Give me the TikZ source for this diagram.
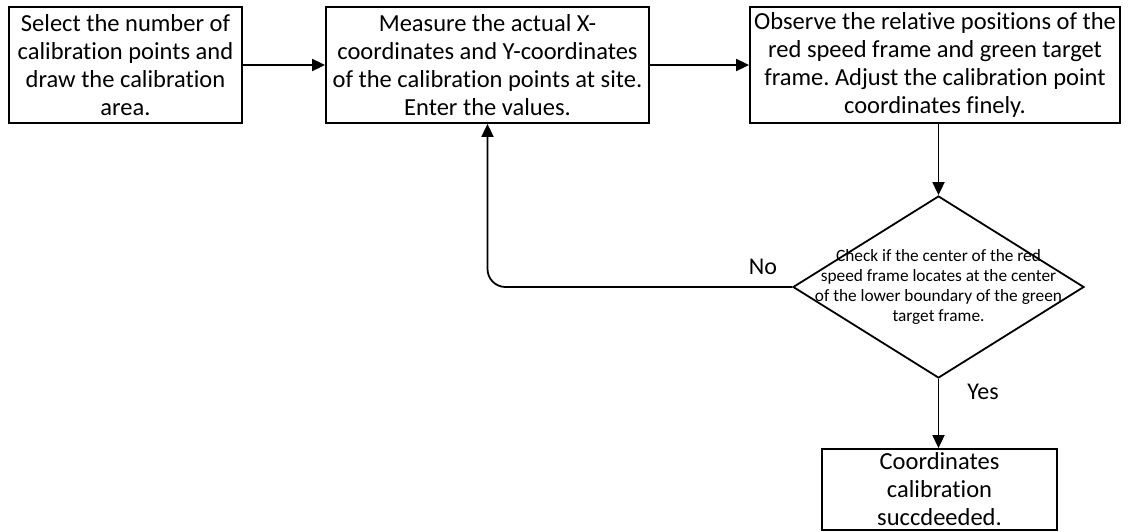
\documentclass[tikz,border=0pt]{standalone}
\usepackage{fontspec}
\setmainfont{Carlito}[Ligatures=NoCommon,RawFeature=-liga]
\frenchspacing
\usetikzlibrary{arrows.meta,shapes.geometric}
\begin{document}
\begin{tikzpicture}[x=1pt,y=-1pt,
  box/.style={draw,line width=1.8pt,inner sep=0pt,align=center,
    font=\fontsize{24.5}{28}\selectfont},
  arr/.style={line width=1.8pt,-{Triangle[length=13pt,width=12pt]}},
  lbl/.style={font=\fontsize{24}{28}\selectfont,inner sep=0pt}]
\useasboundingbox (0,0) rectangle (1128,531);
\node[box,minimum width=233pt,minimum height=116pt] (b1) at (125.5,65)
  {Select the number of\\calibration points and\\draw the calibration\\area.};
\node[box,minimum width=323pt,minimum height=116pt] (b2) at (487.5,65)
  {Measure the actual X-\\coordinates and Y-coordinates\\of the calibration points at site.\\Enter the values.};
\node[box,minimum width=370pt,minimum height=116pt] (b3) at (935,65)
  {Observe the relative positions of the\\red speed frame and green target\\frame. Adjust the calibration point\\coordinates finely.};
\node[draw,line width=1.8pt,diamond,inner sep=0pt,minimum width=291pt,minimum height=182pt,aspect=1.6] (dia) at (938.5,287) {};
\node[align=center,inner sep=0pt,font=\fontsize{17.3}{20}\selectfont] (dtext) at (dia.center)
  {Check if the center of the red\\speed frame locates at the center\\of the lower boundary of the green\\target frame.};
\node[box,minimum width=235pt,minimum height=81pt] (b4) at (939.5,489.5)
  {Coordinates\\calibration\\succdeeded.};
\draw[arr] (b1) -- (b2);
\draw[arr] (b2) -- (b3);
\draw[arr] (b3.south -| dia.north) -- (dia.north);
\draw[arr] (dia.south) -- (b4.north -| dia.south);
\draw[arr,rounded corners=18pt] (dia.west) -| (b2.south);
\node[lbl] (no) at (763,267) {No};
\node[lbl] (yes) at (983,392) {Yes};
\end{tikzpicture}
\end{document}
